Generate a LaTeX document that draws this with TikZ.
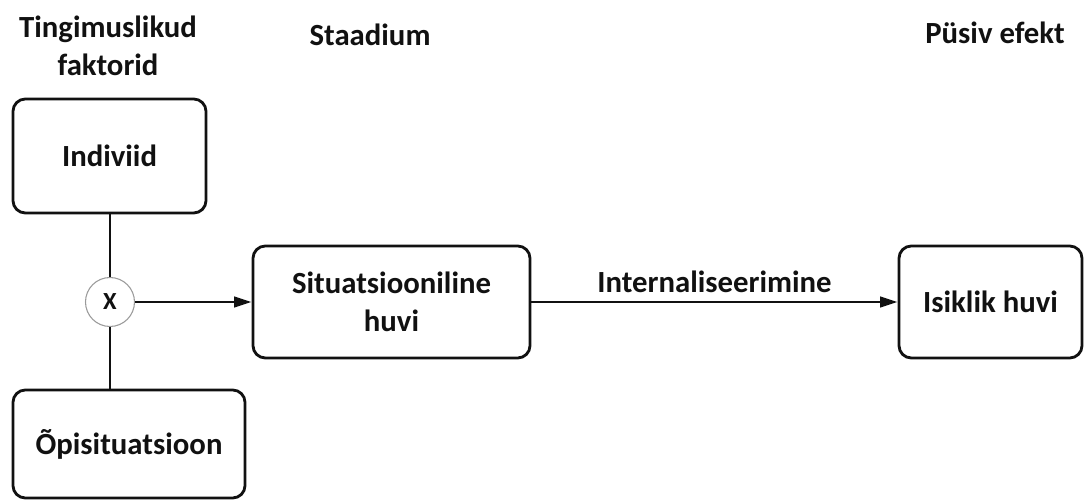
\documentclass[tikz,border=0pt]{standalone}
\usepackage{fontspec}
\setmainfont{Carlito}
\usepackage{xcolor}
\usetikzlibrary{positioning,arrows.meta,shapes.geometric}
\definecolor{ink}{HTML}{111111}
\definecolor{ring}{HTML}{9a9a9a}
\tikzset{
  every node/.style={font=\fontsize{17.5}{21.6}\selectfont\bfseries, text=ink},
  factor/.style={
    rectangle, rounded corners=7pt,
    draw=ink, line width=1.6pt, fill=white,
    minimum height=2.24cm,
    align=center
  },
  joiner/.style={
    circle, draw=ring, line width=0.6pt, fill=white,
    minimum size=0.98cm, inner sep=0pt,
    font=\fontsize{14}{16}\selectfont\bfseries
  },
  heading/.style={align=center},
  link/.style={line width=1.6pt, draw=ink},
  arrow/.style={
    -{Triangle[length=10pt,width=6pt]},
    line width=1.6pt, draw=ink
  },
}
\begin{document}
\begin{tikzpicture}
  \useasboundingbox (0,0) rectangle (21.76,10.02);
  % headings
  \node[heading] (hfactors) at (2.16,9.1) {Tingimuslikud\\faktorid};
  \node[heading] (hstage) at (7.4,9.32) {Staadium};
  \node[heading] (heffect) at (19.9,9.36) {Püsiv efekt};
  % boxes
  \node[factor, minimum width=3.86cm, minimum height=2.28cm] (indiv) at (2.19,6.9) {Indiviid};
  \node[factor, minimum width=4.64cm, minimum height=2.16cm] (opis) at (2.58,1.14) {Õpisituatsioon};
  \node[joiner] (times) at (2.2,3.98) {X};
  \node[factor, minimum width=5.54cm] (sitint) at (7.83,3.98) {Situatsiooniline\\huvi};
  \node[factor, minimum width=3.66cm] (persint) at (19.81,3.98) {Isiklik huvi};
  % connectors
  \draw[link] (times) -- (times |- indiv.south);
  \draw[link] (times) -- (times |- opis.north);
  \draw[arrow] (times) -- (sitint);
  \draw[arrow] (sitint) -- node[above=1pt] (internal) {Internaliseerimine} (persint);
\end{tikzpicture}
\end{document}
